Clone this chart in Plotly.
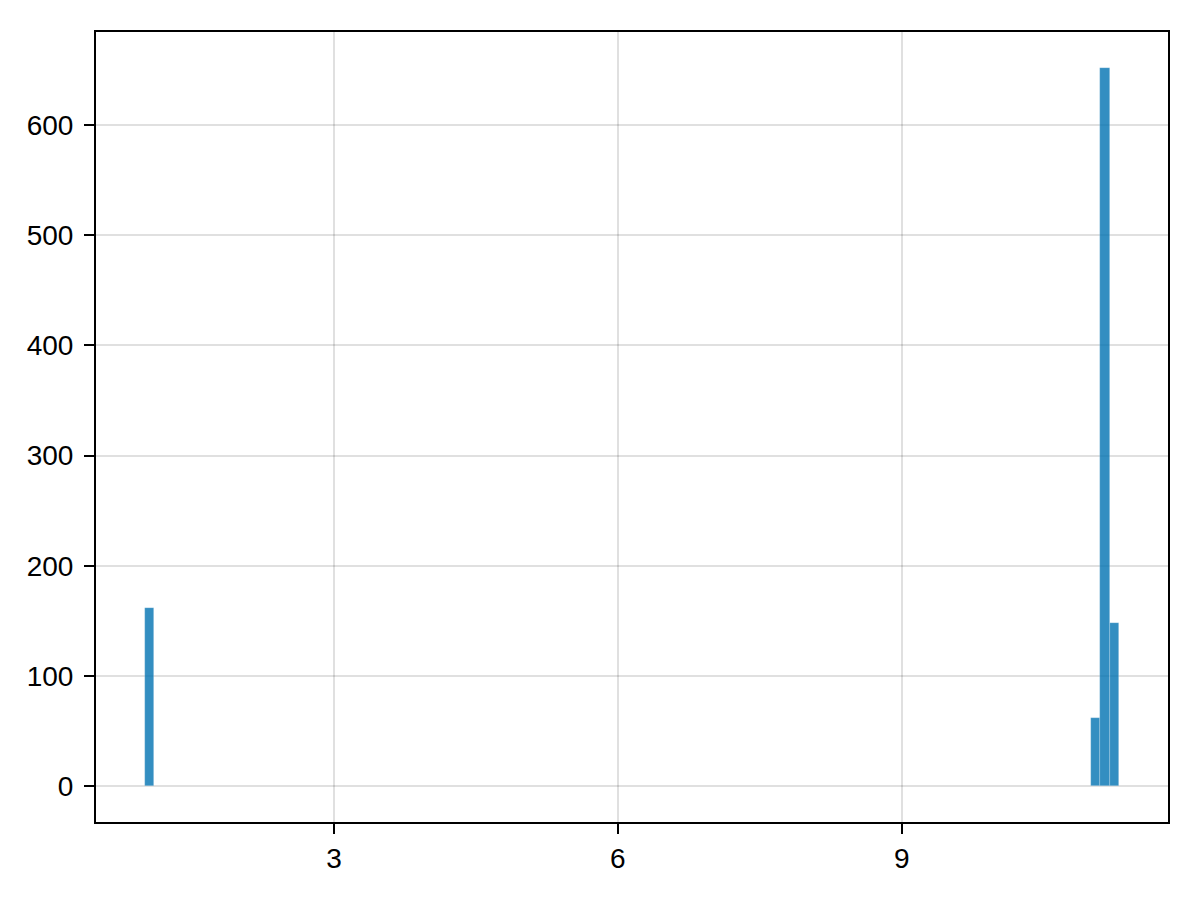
import plotly.graph_objects as go

bin_starts = [1.0, 11.0, 11.1, 11.2]
counts = [162, 62, 652, 148]
bin_width = 0.1
x_ticks = [3, 6, 9]
y_ticks = [0, 100, 200, 300, 400, 500, 600]

centers = [b + bin_width / 2 for b in bin_starts]

fig = go.Figure()
fig.add_trace(go.Bar(
    x=centers, y=counts, width=[bin_width] * len(counts),
    marker=dict(color="rgba(0,114,178,0.8)",
                line=dict(color="rgba(255,255,255,0.35)", width=0.6)),
    showlegend=False,
))

axis_common = dict(
    showline=True, mirror=True, linecolor="black", linewidth=2,
    showgrid=True, gridcolor="rgba(0,0,0,0.12)", gridwidth=2,
    zeroline=False,
    ticks="outside", ticklen=10, tickwidth=2, tickcolor="black",
    tickfont=dict(family="Liberation Sans, Arial, sans-serif", size=28, color="black"),
)

fig.update_layout(
    width=1200, height=900,
    margin=dict(l=88, r=40, t=24, b=86),
    paper_bgcolor="white", plot_bgcolor="white",
    bargap=0,
    xaxis=dict(range=[0.485, 11.815], tickvals=x_ticks,
               ticktext=[str(v) for v in x_ticks], ticklabelstandoff=0, **axis_common),
    yaxis=dict(range=[-32.6, 684.6], tickvals=y_ticks,
               ticktext=[str(v) for v in y_ticks], ticklabelstandoff=5, **axis_common),
)

fig.write_html("out.html")
